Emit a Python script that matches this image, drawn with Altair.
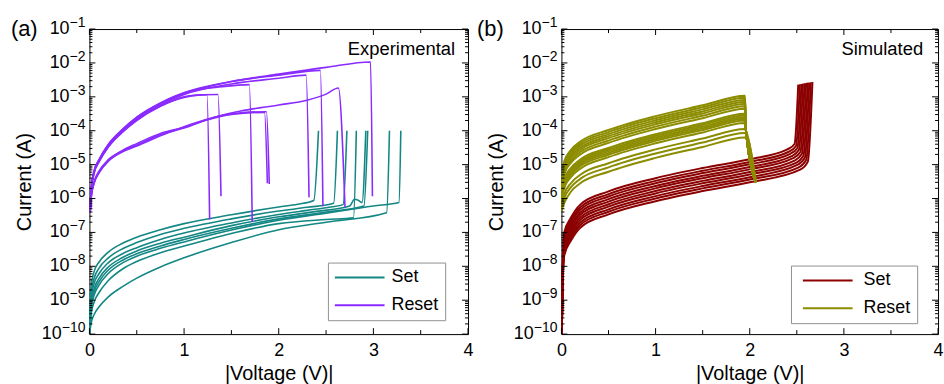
import altair as alt
import pandas as pd

FONT = "Liberation Sans"
TEAL = "#138784"
PURPLE = "#8A2BFF"
WINE = "#8B0000"
OLIVE = "#8C8C00"

# ---------------- axis ticks / labels ----------------
X_MAJOR = [0, 1, 2, 3, 4]
X_MINOR = [0.5, 1.5, 2.5, 3.5]
Y_EXPONENTS = [-10, -9, -8, -7, -6, -5, -4, -3, -2, -1]
Y_LABEL_BASE = "10"
Y_LABEL_EXP = ["−10", "−9", "−8", "−7", "−6", "−5", "−4", "−3", "−2", "−1"]
Y_MINOR_MANTISSA = [2, 3, 4, 5, 6, 7, 8, 9]

# ---------------- panel (a): experimental ----------------
# Set curves: |V| and log10(I)
A_SET_V = [
    [0.002, 0.008, 0.02, 0.05, 0.1, 0.2, 0.35, 0.5, 0.75, 1.0, 1.5, 2.0, 2.2, 2.37, 2.42],
    [0.002, 0.008, 0.02, 0.05, 0.1, 0.2, 0.35, 0.5, 0.75, 1.0, 1.5, 2.0, 2.3, 2.58, 2.62],
    [0.002, 0.008, 0.02, 0.05, 0.1, 0.2, 0.35, 0.5, 0.75, 1.0, 1.5, 2.0, 2.3, 2.55, 2.68, 2.72],
    [0.002, 0.008, 0.02, 0.05, 0.1, 0.2, 0.35, 0.5, 0.75, 1.0, 1.5, 2.0, 2.4, 2.75, 2.8, 2.84, 2.88, 2.92],
    [0.002, 0.008, 0.02, 0.05, 0.1, 0.2, 0.35, 0.5, 0.75, 1.0, 1.5, 2.0, 2.5, 2.9, 2.94],
    [0.002, 0.008, 0.02, 0.05, 0.1, 0.2, 0.35, 0.5, 0.75, 1.0, 1.5, 2.0, 2.5, 3.0, 3.27, 3.29],
    [0.002, 0.008, 0.02, 0.05, 0.1, 0.2, 0.35, 0.5, 0.75, 1.0, 1.5, 2.0, 2.5, 2.79, 2.82],
    [0.002, 0.008, 0.02, 0.05, 0.1, 0.2, 0.35, 0.5, 0.75, 1.0, 1.5, 2.0, 2.5, 3.14, 3.17],
]
A_SET_LOGI = [
    [-10.0, -9.10, -8.55, -8.15, -7.88, -7.58, -7.32, -7.14, -6.92, -6.74, -6.48, -6.25, -6.17, -6.06, -4.0],
    [-10.0, -9.25, -8.75, -8.35, -8.06, -7.75, -7.48, -7.30, -7.06, -6.88, -6.60, -6.37, -6.26, -6.14, -4.0],
    [-10.0, -9.35, -8.90, -8.50, -8.22, -7.89, -7.63, -7.45, -7.21, -7.02, -6.72, -6.47, -6.35, -6.25, -6.18, -4.0],
    [-10.0, -9.45, -9.02, -8.65, -8.36, -8.02, -7.74, -7.55, -7.32, -7.14, -6.80, -6.54, -6.38, -6.22, -6.02, -6.05, -6.12, -4.0],
    [-10.0, -9.55, -9.12, -8.75, -8.46, -8.11, -7.82, -7.63, -7.40, -7.21, -6.88, -6.60, -6.40, -6.22, -4.0],
    [-10.0, -9.62, -9.22, -8.85, -8.56, -8.21, -7.90, -7.70, -7.47, -7.28, -6.93, -6.64, -6.43, -6.22, -6.12, -4.0],
    [-10.0, -9.72, -9.38, -9.05, -8.78, -8.42, -8.08, -7.86, -7.60, -7.40, -7.03, -6.74, -6.62, -6.57, -4.0],
    [-10.0, -9.85, -9.65, -9.42, -9.20, -8.90, -8.60, -8.35, -8.02, -7.75, -7.30, -6.92, -6.70, -6.42, -4.0],
]
# Reset curves
A_RESET_V = [
    [0.008, 0.02, 0.05, 0.1, 0.2, 0.35, 0.5, 0.75, 1.0, 1.5, 2.0, 2.5, 2.97, 2.99],
    [0.008, 0.02, 0.05, 0.1, 0.2, 0.35, 0.5, 0.75, 1.0, 1.5, 2.0, 2.44, 2.467],
    [0.008, 0.02, 0.05, 0.1, 0.2, 0.35, 0.5, 0.75, 1.0, 1.5, 2.0, 2.29, 2.32],
    [0.008, 0.02, 0.05, 0.1, 0.2, 0.35, 0.5, 0.75, 1.0, 1.4, 1.69, 1.72],
    [0.008, 0.02, 0.05, 0.1, 0.2, 0.35, 0.5, 0.75, 1.0, 1.2, 1.358, 1.39],
    [0.008, 0.02, 0.05, 0.1, 0.2, 0.35, 0.5, 0.75, 1.0, 1.15, 1.242, 1.27],
    [0.008, 0.02, 0.05, 0.1, 0.2, 0.35, 0.5, 0.75, 1.0, 1.3, 1.6, 2.0, 2.3, 2.5, 2.63, 2.70],
    [0.008, 0.02, 0.05, 0.1, 0.2, 0.35, 0.5, 0.75, 1.0, 1.2, 1.4, 1.6, 1.87, 1.9],
    [0.008, 0.02, 0.05, 0.1, 0.2, 0.35, 0.5, 0.75, 1.0, 1.2, 1.5, 1.85, 1.88],
]
A_RESET_LOGI = [
    [-6.30, -5.70, -5.20, -4.88, -4.42, -3.98, -3.63, -3.20, -2.90, -2.55, -2.33, -2.13, -1.97, -5.93],
    [-6.25, -5.68, -5.18, -4.86, -4.40, -3.96, -3.61, -3.19, -2.88, -2.55, -2.36, -2.22, -6.23],
    [-6.32, -5.72, -5.22, -4.90, -4.45, -4.01, -3.66, -3.24, -2.93, -2.62, -2.45, -2.36, -5.96],
    [-6.28, -5.69, -5.19, -4.87, -4.41, -3.96, -3.60, -3.18, -2.88, -2.70, -2.64, -6.69],
    [-6.35, -5.75, -5.25, -4.92, -4.47, -4.03, -3.68, -3.27, -3.00, -2.94, -2.93, -5.93],
    [-6.33, -5.74, -5.24, -4.93, -4.48, -4.04, -3.70, -3.28, -3.02, -2.95, -2.94, -6.62],
    [-6.40, -5.90, -5.50, -5.20, -4.85, -4.60, -4.42, -4.12, -3.92, -3.62, -3.42, -3.24, -3.10, -2.92, -2.74, -6.25],
    [-6.40, -5.95, -5.55, -5.25, -4.90, -4.62, -4.45, -4.15, -3.88, -3.70, -3.55, -3.47, -3.44, -5.57],
    [-6.42, -5.93, -5.53, -5.23, -4.88, -4.58, -4.38, -4.08, -3.90, -3.72, -3.52, -3.46, -5.55],
]

# ---------------- panel (b): simulated ----------------
B_SET_V = [
    [0.004, 0.012, 0.03, 0.1, 0.2, 0.5, 1.0, 1.5, 2.0, 2.400, 2.476, 2.515],
    [0.004, 0.012, 0.03, 0.1, 0.2, 0.5, 1.0, 1.5, 2.0, 2.415, 2.492, 2.532],
    [0.004, 0.012, 0.03, 0.1, 0.2, 0.5, 1.0, 1.5, 2.0, 2.430, 2.507, 2.549],
    [0.004, 0.012, 0.03, 0.1, 0.2, 0.5, 1.0, 1.5, 2.0, 2.445, 2.523, 2.565],
    [0.004, 0.012, 0.03, 0.1, 0.2, 0.5, 1.0, 1.5, 2.0, 2.460, 2.539, 2.582],
    [0.004, 0.012, 0.03, 0.1, 0.2, 0.5, 1.0, 1.5, 2.0, 2.475, 2.554, 2.599],
    [0.004, 0.012, 0.03, 0.1, 0.2, 0.5, 1.0, 1.5, 2.0, 2.490, 2.570, 2.616],
    [0.004, 0.012, 0.03, 0.1, 0.2, 0.5, 1.0, 1.5, 2.0, 2.505, 2.586, 2.632],
    [0.004, 0.012, 0.03, 0.1, 0.2, 0.5, 1.0, 1.5, 2.0, 2.520, 2.601, 2.649],
    [0.004, 0.012, 0.03, 0.1, 0.2, 0.5, 1.0, 1.5, 2.0, 2.535, 2.617, 2.666],
]
B_SET_LOGI = [
    [-10.0, -8.00, -7.00, -6.57, -6.18, -5.79, -5.40, -5.10, -4.84, -4.55, -4.39, -2.64],
    [-10.0, -8.08, -7.08, -6.65, -6.26, -5.87, -5.48, -5.18, -4.92, -4.62, -4.45, -2.63],
    [-10.0, -8.15, -7.15, -6.72, -6.33, -5.94, -5.55, -5.25, -4.99, -4.68, -4.51, -2.62],
    [-10.0, -8.23, -7.23, -6.80, -6.41, -6.02, -5.63, -5.33, -5.07, -4.75, -4.56, -2.61],
    [-10.0, -8.30, -7.30, -6.87, -6.48, -6.09, -5.70, -5.40, -5.14, -4.81, -4.62, -2.60],
    [-10.0, -8.38, -7.38, -6.95, -6.56, -6.17, -5.78, -5.48, -5.22, -4.88, -4.68, -2.59],
    [-10.0, -8.45, -7.45, -7.02, -6.63, -6.24, -5.85, -5.55, -5.29, -4.95, -4.74, -2.58],
    [-10.0, -8.53, -7.53, -7.10, -6.71, -6.32, -5.93, -5.63, -5.37, -5.01, -4.79, -2.58],
    [-10.0, -8.60, -7.60, -7.17, -6.78, -6.39, -6.00, -5.70, -5.44, -5.08, -4.85, -2.57],
    [-10.0, -8.68, -7.68, -7.25, -6.86, -6.47, -6.08, -5.78, -5.52, -5.15, -4.91, -2.56],
]
B_RESET_V_GRID = [0.004, 0.012, 0.03, 0.1, 0.2, 0.5, 1.0, 1.5, 1.95]
B_RESET_LOGI_GRID = [
    [-6.35, -5.40, -4.90, -4.57, -4.32, -3.98, -3.57, -3.25, -2.97],
    [-6.35, -5.44, -4.96, -4.63, -4.38, -4.04, -3.63, -3.31, -3.03],
    [-6.35, -5.48, -5.02, -4.69, -4.44, -4.10, -3.69, -3.37, -3.09],
    [-6.35, -5.53, -5.08, -4.75, -4.50, -4.16, -3.75, -3.43, -3.15],
    [-6.35, -5.57, -5.14, -4.81, -4.56, -4.22, -3.81, -3.49, -3.21],
    [-6.35, -5.62, -5.21, -4.88, -4.63, -4.29, -3.88, -3.56, -3.28],
    [-6.35, -5.67, -5.28, -4.95, -4.70, -4.36, -3.95, -3.63, -3.35],
    [-6.35, -5.77, -5.43, -5.10, -4.85, -4.51, -4.10, -3.78, -3.50],
    [-6.35, -5.81, -5.48, -5.15, -4.90, -4.56, -4.15, -3.83, -3.55],
    [-6.35, -5.84, -5.53, -5.20, -4.95, -4.61, -4.20, -3.88, -3.60],
    [-6.35, -5.88, -5.58, -5.25, -5.00, -4.66, -4.25, -3.93, -3.65],
    [-6.35, -5.91, -5.63, -5.30, -5.05, -4.71, -4.30, -3.98, -3.70],
    [-6.35, -5.96, -5.70, -5.37, -5.12, -4.78, -4.37, -4.05, -3.77],
    [-6.35, -6.09, -5.88, -5.55, -5.30, -4.96, -4.55, -4.23, -3.95],
    [-6.35, -6.17, -6.00, -5.67, -5.42, -5.08, -4.67, -4.35, -4.07],
    [-6.35, -6.26, -6.13, -5.80, -5.55, -5.21, -4.80, -4.48, -4.20],
]
# drop of the reset curves after 1.95 V
B_RESET_TAIL_V = [1.96, 2.065]
B_RESET_TAIL_LOGI = [-4.0, -5.52]


def curves_df(v_lists, l_lists, kind, prefix):
    rows = []
    for k, (vs, ls) in enumerate(zip(v_lists, l_lists)):
        for v, l in zip(vs, ls):
            rows.append({"V": v, "I": 10.0 ** l, "type": kind, "curve": f"{prefix}{k}"})
    return pd.DataFrame(rows)


b_reset_v, b_reset_l = [], []
for ls in B_RESET_LOGI_GRID:
    if ls[-1] > B_RESET_TAIL_LOGI[0]:
        b_reset_v.append(B_RESET_V_GRID + B_RESET_TAIL_V)
        b_reset_l.append(ls + B_RESET_TAIL_LOGI)
    else:
        b_reset_v.append(B_RESET_V_GRID + B_RESET_TAIL_V[1:])
        b_reset_l.append(ls + B_RESET_TAIL_LOGI[1:])

a_set = curves_df(A_SET_V, A_SET_LOGI, "Set", "as")
a_reset = curves_df(A_RESET_V, A_RESET_LOGI, "Reset", "ar")
b_set = curves_df(B_SET_V, B_SET_LOGI, "Set", "bs")
b_reset = curves_df(b_reset_v, b_reset_l, "Reset", "br")

H = 307
Y_VALS = [10.0 ** e for e in Y_EXPONENTS]
Y_MINOR = [m * 10.0 ** e for e in Y_EXPONENTS[:-1] for m in Y_MINOR_MANTISSA]
ylab_df = pd.DataFrame({"t": Y_VALS, "exp": Y_LABEL_EXP, "n": [len(s) for s in Y_LABEL_EXP]})


def panel(set_df, reset_df, set_color, reset_color, tag, note, W, legend_xy, sym_offset, lab_offset,
          tag_x, note_dx, lw):
    xs = alt.Scale(domain=[0, 4], nice=False, zero=False)
    ys = alt.Scale(type="log", domain=[1e-10, 1e-1], nice=False)
    color = alt.Color(
        "type:N",
        scale=alt.Scale(domain=["Set", "Reset"], range=[set_color, reset_color]),
        legend=alt.Legend(
            title=None, orient="none", legendX=legend_xy[0], legendY=legend_xy[1],
            symbolType="M-5,0H5", symbolSize=100, symbolStrokeWidth=2,
            symbolOffset=sym_offset, labelOffset=lab_offset,
            labelFontSize=18, labelFont=FONT, labelColor="black",
            rowPadding=10, padding=6, strokeColor="#909090", fillColor="white",
        ),
    )
    xaxis = alt.Axis(
        values=X_MAJOR, format="d", ticks=False, domain=False, grid=False, labelFlush=False,
        labelFontSize=18, labelFont=FONT, labelColor="black", labelPadding=8,
        title="|Voltage (V)|", titleFontSize=20, titleFont=FONT, titleFontWeight="normal",
        titleColor="black", titlePadding=4,
    )
    yaxis = alt.Axis(
        values=Y_VALS, labels=False, ticks=False, domain=False, grid=False,
        title="Current (A)", titleFontSize=20, titleFont=FONT, titleFontWeight="normal",
        titleColor="black", titlePadding=55,
    )
    set_layer = alt.Chart(set_df).mark_line(interpolate="monotone", strokeWidth=lw, clip=True).encode(
        x=alt.X("V:Q", scale=xs, axis=xaxis),
        y=alt.Y("I:Q", scale=ys, axis=yaxis),
        color=color, detail="curve:N",
    )
    reset_layer = alt.Chart(reset_df).mark_line(interpolate="monotone", strokeWidth=lw, clip=True).encode(
        x=alt.X("V:Q", scale=xs, axis=xaxis),
        y=alt.Y("I:Q", scale=ys, axis=yaxis),
        color=color, detail="curve:N",
    )
    ymaj = alt.Chart(pd.DataFrame({"t": Y_VALS}))
    ymin = alt.Chart(pd.DataFrame({"t": Y_MINOR}))
    xmaj = alt.Chart(pd.DataFrame({"t": X_MAJOR}))
    xmin = alt.Chart(pd.DataFrame({"t": X_MINOR}))
    tk = dict(color="black", strokeWidth=1)
    yenc = alt.Y("t:Q", scale=ys, axis=yaxis)
    xenc = alt.X("t:Q", scale=xs, axis=xaxis)
    ticks = [
        ymaj.mark_rule(**tk).encode(y=yenc, x=alt.value(0), x2=alt.value(6)),
        ymaj.mark_rule(**tk).encode(y=yenc, x=alt.value(W), x2=alt.value(W - 6)),
        ymin.mark_rule(**tk).encode(y=yenc, x=alt.value(0), x2=alt.value(3)),
        ymin.mark_rule(**tk).encode(y=yenc, x=alt.value(W), x2=alt.value(W - 3)),
        xmaj.mark_rule(**tk).encode(x=xenc, y=alt.value(H), y2=alt.value(H - 6)),
        xmaj.mark_rule(**tk).encode(x=xenc, y=alt.value(0), y2=alt.value(6)),
        xmin.mark_rule(**tk).encode(x=xenc, y=alt.value(H), y2=alt.value(H - 4)),
        xmin.mark_rule(**tk).encode(x=xenc, y=alt.value(0), y2=alt.value(4)),
    ]
    # y tick labels: "10" with a superscript exponent
    ylab = alt.Chart(ylab_df)
    labels = [
        ylab.transform_filter("datum.n == 2").mark_text(
            text=Y_LABEL_BASE, align="right", baseline="middle", fontSize=18, font=FONT, color="black"
        ).encode(y=yenc, x=alt.value(-20)),
        ylab.transform_filter("datum.n == 3").mark_text(
            text=Y_LABEL_BASE, align="right", baseline="middle", fontSize=18, font=FONT, color="black"
        ).encode(y=yenc, x=alt.value(-28)),
        ylab.mark_text(
            align="right", baseline="middle", fontSize=14, font=FONT, color="black", dy=-6
        ).encode(text="exp:N", y=yenc, x=alt.value(-4)),
    ]
    note_txt = alt.Chart(pd.DataFrame({"t": [note]})).mark_text(
        align="right", baseline="middle", fontSize=18.5, font=FONT, color="black"
    ).encode(text="t:N", x=alt.value(W - note_dx), y=alt.value(20))
    tag_txt = alt.Chart(pd.DataFrame({"t": [tag]})).mark_text(
        align="left", baseline="middle", fontSize=22, font=FONT, color="black"
    ).encode(text="t:N", x=alt.value(tag_x), y=alt.value(0))
    return alt.layer(set_layer, reset_layer, *ticks, *labels, note_txt, tag_txt).properties(width=W, height=H)


pa = panel(a_set, a_reset, TEAL, PURPLE, "(a)", "Experimental", 381, (240, 235), 17, 23, -79, 13, 1.6)
pb = panel(b_set, b_reset, WINE, OLIVE, "(b)", "Simulated", 379, (231, 238), 22, 27, -85, 15, 2.0)

chart = (
    alt.hconcat(pa, pb, spacing=94, bounds="flush")
    .resolve_scale(color="independent")
    .configure_view(stroke="black", strokeWidth=1)
    .properties(padding={"left": 10, "top": 14, "right": 0, "bottom": 0}, background="white")
)
chart.save("out.html", embed_options={"renderer": "svg", "actions": False})
